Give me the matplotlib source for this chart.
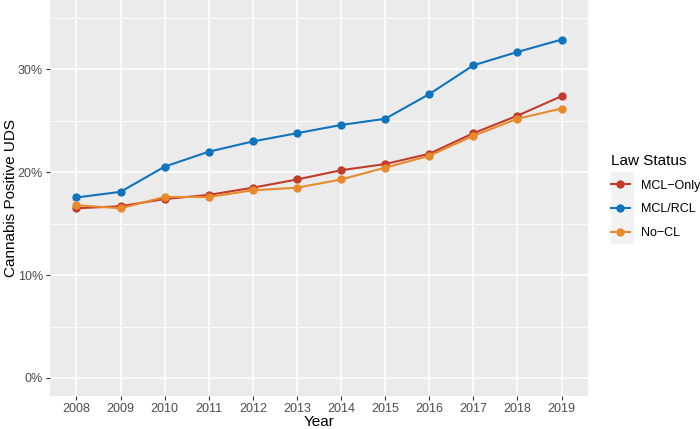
import matplotlib
matplotlib.use('Agg')
import matplotlib.pyplot as plt
from matplotlib.patches import Rectangle
from matplotlib.ticker import FixedLocator, FuncFormatter

plt.rcParams['font.family'] = ['Liberation Sans', 'DejaVu Sans']

# 数据
years = [2008, 2009, 2010, 2011, 2012, 2013, 2014, 2015, 2016, 2017, 2018, 2019]
mcl_only = [16.5, 16.7, 17.4, 17.8, 18.5, 19.3, 20.2, 20.8, 21.8, 23.8, 25.5, 27.4]
mcl_rcl = [17.55, 18.1, 20.55, 22.0, 23.0, 23.8, 24.6, 25.2, 27.6, 30.4, 31.7, 32.9]
no_cl = [16.8, 16.5, 17.6, 17.6, 18.25, 18.5, 19.3, 20.45, 21.6, 23.55, 25.2, 26.2]
series_names = ['MCL\u2212Only', 'MCL/RCL', 'No\u2212CL']
colors = ['#C33B2A', '#0F73BD', '#E8892B']

W, H = 700, 429
fig = plt.figure(figsize=(7, 4.29), dpi=100)
ax = fig.add_axes([50/W, 1-396/H, 538/W, 396/H])
ax.set_facecolor('#EBEBEB')

for name, vals, c in zip(series_names, [mcl_only, mcl_rcl, no_cl], colors):
    ax.plot(years, vals, color=c, lw=1.5, marker='o', ms=5, label=name, zorder=3)

ax.set_xlim(2007.4, 2019.6)
ax.set_ylim(-1.75, 36.75)
ax.set_xticks(years)
ax.yaxis.set_major_locator(FixedLocator([0, 10, 20, 30]))
ax.yaxis.set_minor_locator(FixedLocator([5, 15, 25, 35]))
ax.yaxis.set_major_formatter(FuncFormatter(lambda v, p: '%d%%' % v))
ax.grid(which='major', color='white', lw=1.1)
ax.grid(which='minor', axis='y', color='white', lw=0.55)
ax.set_axisbelow(True)
for s in ax.spines.values():
    s.set_visible(False)
ax.tick_params(which='major', length=3, color='#333333', labelcolor='#4D4D4D', labelsize=9, width=0.8, pad=2)
ax.tick_params(which='minor', length=0)
ax.set_xlabel('Year', fontsize=11, labelpad=0)
ax.set_ylabel('Cannabis Positive UDS', fontsize=11, labelpad=0)

# 图例
handles, labels = ax.get_legend_handles_labels()
fig.patches.append(Rectangle((611/W, 1-244/H), 23/W, 72/H, transform=fig.transFigure,
                             facecolor='#F2F2F2', edgecolor='none', zorder=-1))
leg = fig.legend(handles, labels, loc='upper left', bbox_to_anchor=(611/W, 1-154/H), frameon=False,
                 title='Law Status', fontsize=9, title_fontsize=11, handlelength=1.5,
                 handletextpad=0.9, labelspacing=0.93, alignment='left',
                 borderpad=0, borderaxespad=0)
fig.savefig('out.png', dpi=100)
